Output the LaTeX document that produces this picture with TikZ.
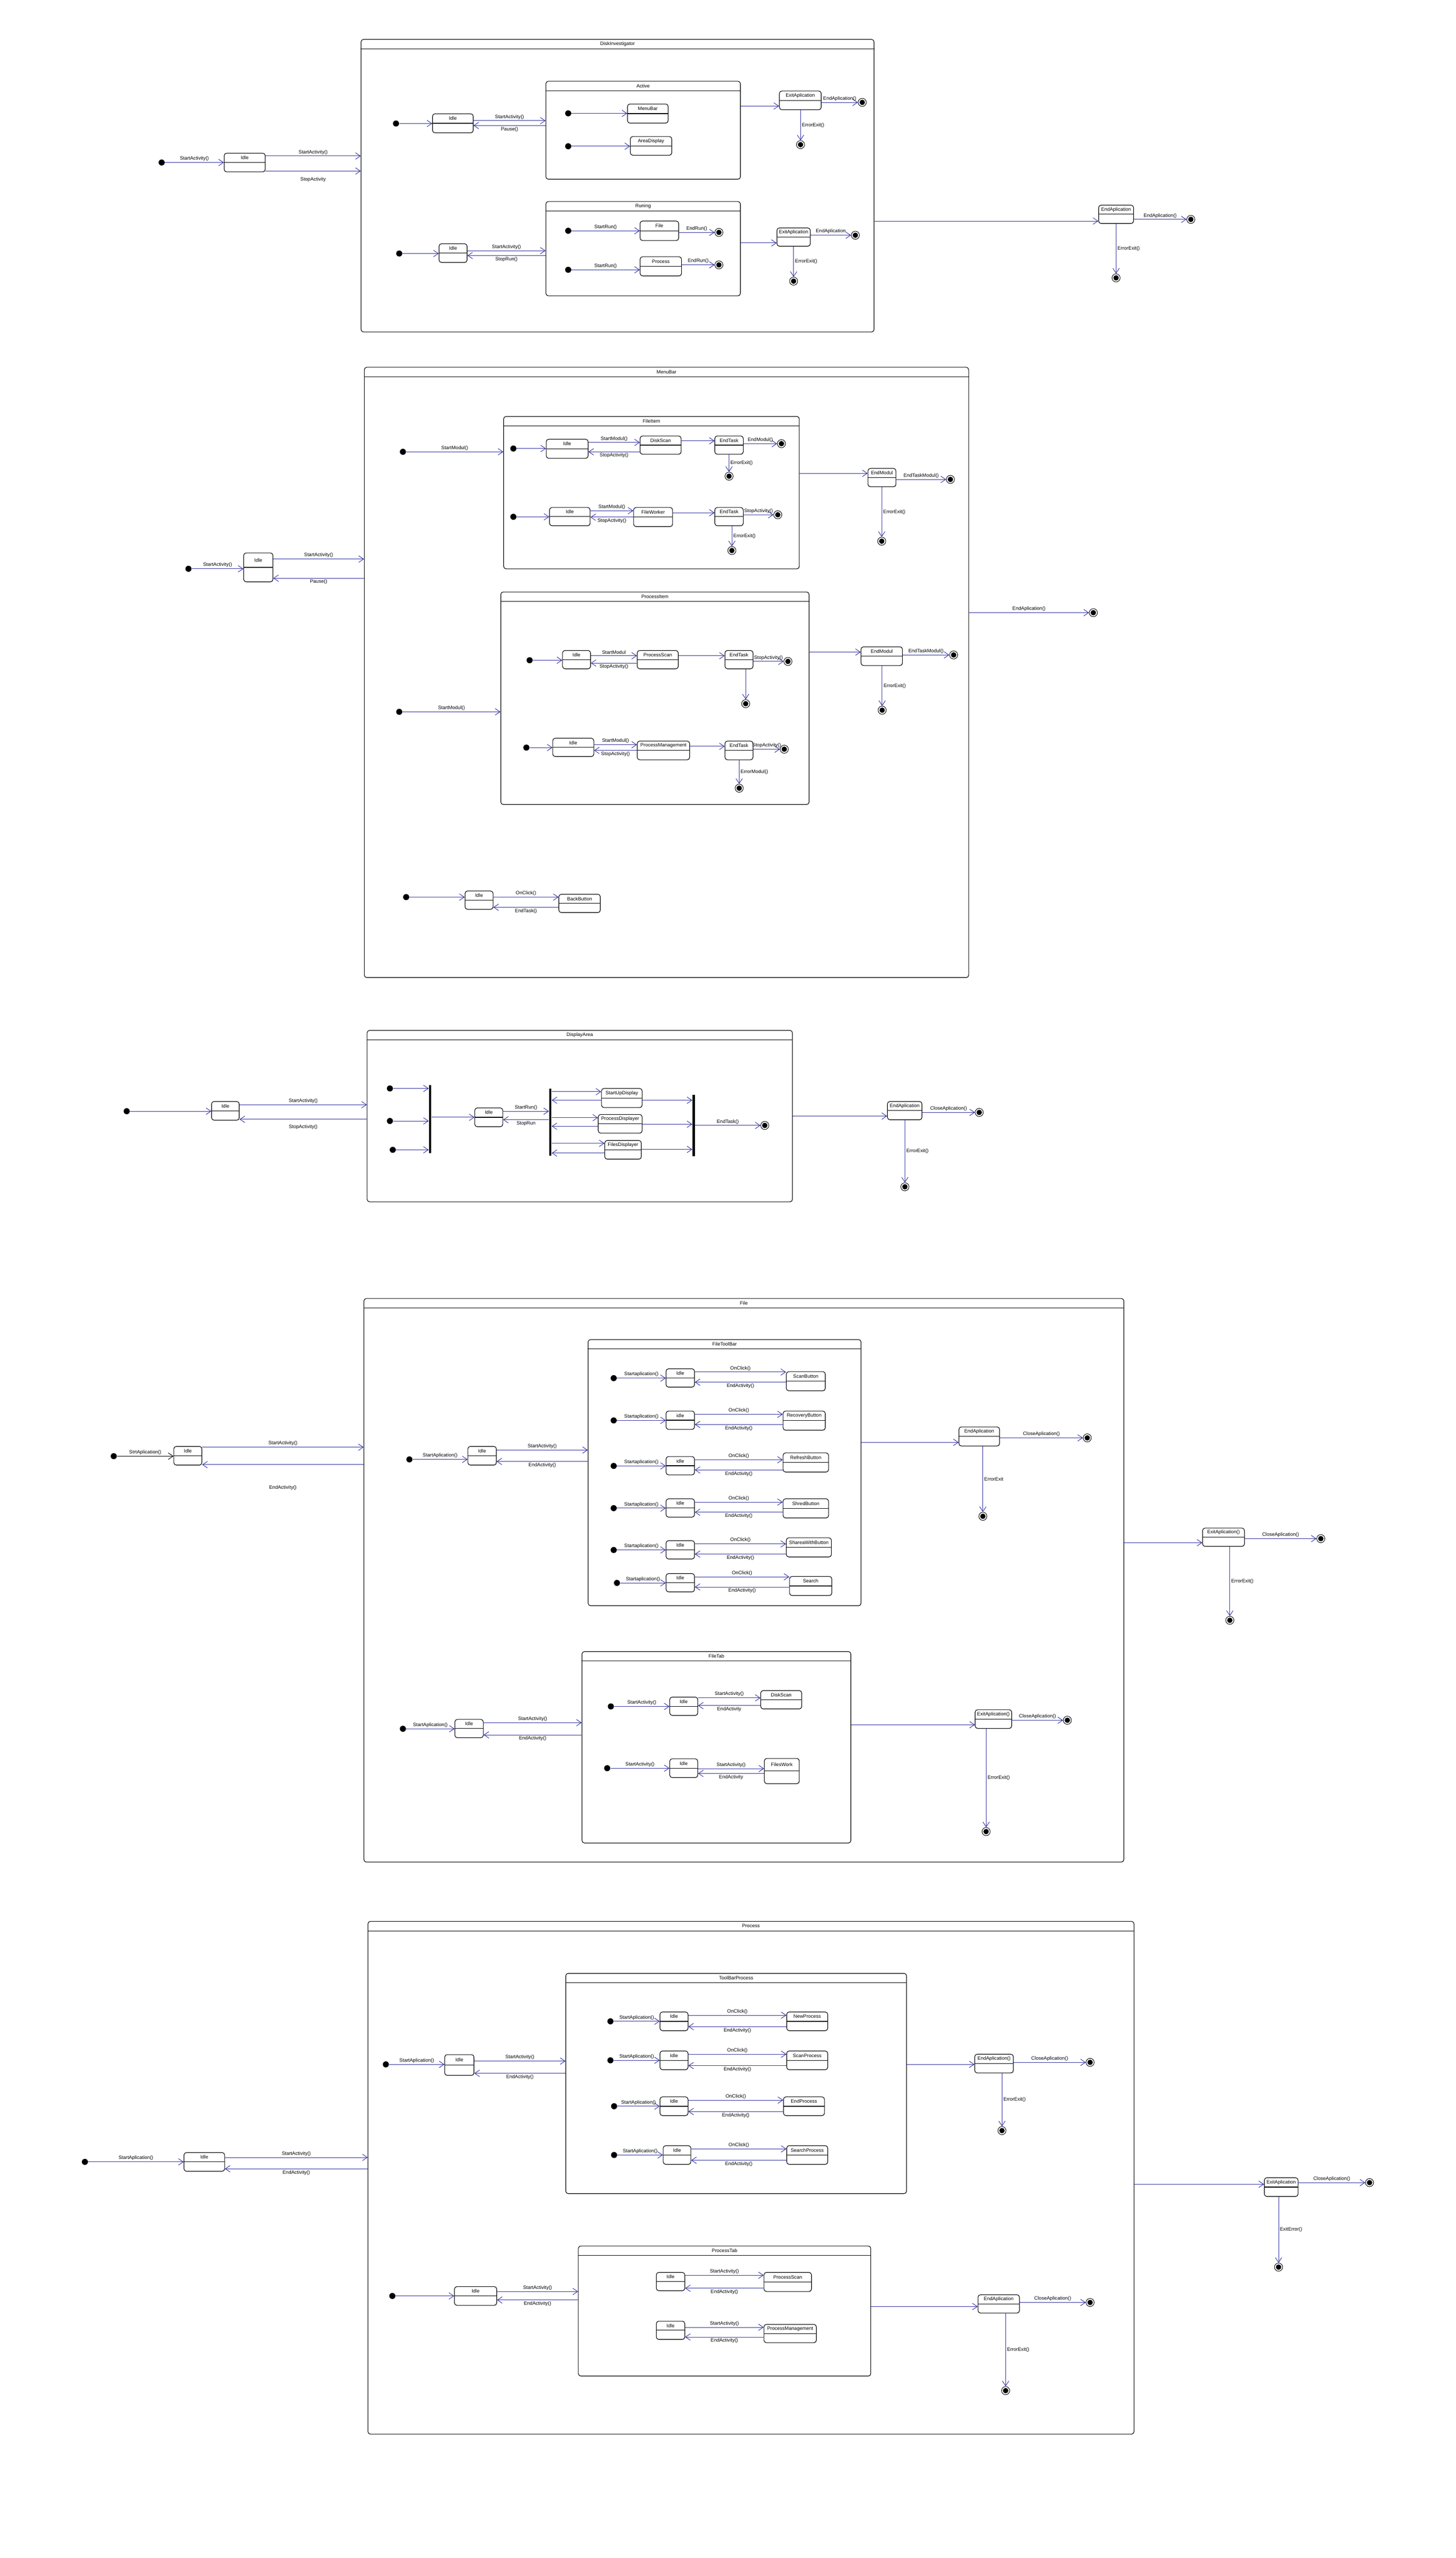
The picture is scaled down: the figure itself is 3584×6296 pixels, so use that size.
\documentclass[tikz,border=0pt]{standalone}
\usepackage{fontspec}
\setmainfont{Liberation Sans}
\usetikzlibrary{arrows.meta,calc,fit,shadows}
\definecolor{arrowblue}{RGB}{45,45,160}

\tikzset{
  st/.style={draw, rounded corners=3pt, line width=0.7pt, fill=white, inner sep=0pt,
    drop shadow={fill=gray!45, shadow xshift=0.5pt, shadow yshift=-0.8pt},
    path picture={\draw[black,line width=0.7pt] (path picture bounding box.west) -- (path picture bounding box.east);}},
  cst/.style={draw, rounded corners=3pt, line width=0.7pt, fill=white, inner sep=0pt,
    drop shadow={fill=gray!45, shadow xshift=0.5pt, shadow yshift=-0.8pt}},
  stname/.style={font=\fontsize{6}{7}\selectfont, inner sep=0pt},
  lbl/.style={font=\fontsize{6}{7}\selectfont, inner sep=1.5pt, text=black},
  init/.style={circle, fill=black, minimum size=7.5pt, inner sep=0pt},
  fin/.style={circle, draw, line width=0.6pt, fill=white, minimum size=10pt, inner sep=0pt,
    path picture={\fill[black] (path picture bounding box.center) circle (3.3pt);}},
  tr/.style={draw=arrowblue, line width=0.6pt, -{Straight Barb[length=6pt,width=8pt]}},
  bar/.style={fill=black, inner sep=0pt},
}

% simple state: name, x1, y1, x2, y2, text
\newcommand{\stbox}[6]{%
  \node[st, fit={(#2,#3) (#4,#5)}] (#1) {};
  \node[stname] at ($(#1.north)!0.25!(#1.south)$) {#6};
}
% composite state with title bar
\newcommand{\cbox}[6]{%
  \node[cst, fit={(#2,#3) (#4,#5)}] (#1) {};
  \draw[line width=0.7pt] ($(#1.north west)+(0,24)$) -- ($(#1.north east)+(0,24)$);
  \node[stname] at ($(#1.north)+(0,12)$) {#6};
}

\begin{document}
\begin{tikzpicture}[x=0.5pt,y=-0.5pt]
\fill[white] (0,0) rectangle (3584,6296);
\useasboundingbox (0,0) rectangle (3584,6296);

% ---------------- DiskInvestigator
\node[init] (i0) at (398,400) {};
\stbox{idA}{552}{377}{653}{423}{Idle}
\cbox{di}{889}{97}{2152}{817}{DiskInvestigator}
\draw[tr] (i0) -- (i0 -| idA.west) node[lbl,midway,above]{StartActivity()};
\draw[tr] (idA.east |- 0,384) -- (di.west |- 0,384) node[lbl,midway,above]{StartActivity()};
\draw[tr] (idA.east |- 0,421) -- (di.west |- 0,421) node[lbl,midway,below=6pt]{StopActivity};

\node[init] (i1) at (975,304) {};
\stbox{idB}{1065}{280}{1165}{327}{Idle}
\cbox{act}{1344}{200}{1823}{441}{Active}
\draw[tr] (i1) -- (i1 -| idB.west);
\draw[tr] (idB.east |- 0,297) -- (act.west |- 0,297) node[lbl,midway,above]{StartActivity()};
\draw[tr] (act.west |- 0,309) -- (idB.east |- 0,309) node[lbl,midway,below]{Pause()};
\node[init] (i2) at (1399,279) {};
\stbox{mnb}{1545}{256}{1645}{303}{MenuBar}
\draw[tr] (i2) -- (i2 -| mnb.west);
\node[init] (i3) at (1399,360) {};
\stbox{ard}{1552}{336}{1654}{382}{AreaDisplay}
\draw[tr] (i3) -- (i3 -| ard.west);
\stbox{ex1}{1919}{224}{2022}{270}{ExitAplication}
\draw[tr] (act.east |- 0,261) -- (ex1.west |- 0,261);
\node[fin] (f3) at (2123,252) {};
\draw[tr] (ex1.east |- f3) -- (f3) node[lbl,midway,above]{EndAplication()};
\node[fin] (f4) at (1971,356) {};
\draw[tr] (f4 |- ex1.south) -- (f4) node[lbl,midway,right]{ErrorExit()};

\cbox{run}{1344}{496}{1823}{728}{Runing}
\node[init] (i4) at (983,624) {};
\stbox{idC}{1081}{600}{1150}{646}{Idle}
\draw[tr] (i4) -- (i4 -| idC.west);
\draw[tr] (idC.east |- 0,617) -- (run.west |- 0,617) node[lbl,midway,above]{StartActivity()};
\draw[tr] (run.west |- 0,629) -- (idC.east |- 0,629) node[lbl,midway,below]{StopRun()};
\node[init] (i5) at (1399,568) {};
\stbox{fil}{1576}{544}{1671}{592}{File}
\draw[tr] (i5) -- (i5 -| fil.west) node[lbl,midway,above]{StartRun()};
\node[fin] (f5) at (1770,572) {};
\draw[tr] (fil.east |- f5) -- (f5) node[lbl,midway,above]{EndRun()};
\node[init] (i6) at (1399,664) {};
\stbox{prc}{1576}{632}{1678}{679}{Process}
\draw[tr] (i6) -- (i6 -| prc.west) node[lbl,midway,above]{StartRun()};
\node[fin] (f6) at (1770,652) {};
\draw[tr] (prc.east |- f6) -- (f6) node[lbl,midway,above]{EndRun()};
\stbox{ex2}{1913}{561}{1995}{606}{ExitAplication}
\draw[tr] (run.east |- 0,598) -- (ex2.west |- 0,598);
\node[fin] (f7) at (2106,579) {};
\draw[tr] (ex2.east |- f7) -- (f7) node[lbl,midway,above]{EndAplication};
\node[fin] (f8) at (1954,692) {};
\draw[tr] (f8 |- ex2.south) -- (f8) node[lbl,midway,right]{ErrorExit()};

\stbox{endA1}{2705}{505}{2791}{550}{EndAplication}
\draw[tr] (di.east |- 0,544) -- (endA1.west |- 0,544);
\node[fin] (f1) at (2932,540) {};
\draw[tr] (endA1.east |- f1) -- (f1) node[lbl,midway,above]{EndAplication()};
\node[fin] (f2) at (2748,684) {};
\draw[tr] (f2 |- endA1.south) -- (f2) node[lbl,midway,right]{ErrorExit()};

% ---------------- MenuBar
\node[init] (j0) at (464,1400) {};
\stbox{idD}{600}{1361}{672}{1432}{Idle}
\cbox{mbar}{897}{904}{2385}{2406}{MenuBar}
\draw[tr] (j0) -- (j0 -| idD.west) node[lbl,midway,above]{StartActivity()};
\draw[tr] (idD.east |- 0,1376) -- (mbar.west |- 0,1376) node[lbl,midway,above]{StartActivity()};
\draw[tr] (mbar.west |- 0,1423) -- (idD.east |- 0,1423) node[lbl,midway,below]{Pause()};
\node[fin] (g0) at (2692,1508) {};
\draw[tr] (mbar.east |- g0) -- (g0) node[lbl,midway,above]{EndAplication()};

\cbox{fi}{1240}{1025}{1968}{1400}{FileItem}
\node[init] (j1) at (992,1112) {};
\draw[tr] (j1) -- (j1 -| fi.west) node[lbl,midway,above]{StartModul()};
\cbox{pi}{1233}{1457}{1992}{1980}{ProcessItem}
\node[init] (j2) at (983,1752) {};
\draw[tr] (j2) -- (j2 -| pi.west) node[lbl,midway,above]{StartModul()};
\stbox{em1}{2137}{1153}{2206}{1198}{EndModul}
\draw[tr] (fi.east |- 0,1165) -- (em1.west |- 0,1165);
\node[fin] (g1) at (2340,1180) {};
\draw[tr] (em1.east |- g1) -- (g1) node[lbl,midway,above]{EndTaskModul()};
\node[fin] (g2) at (2171,1332) {};
\draw[tr] (g2 |- em1.south) -- (g2) node[lbl,midway,right]{ErrorExit()};
\stbox{em2}{2120}{1592}{2222}{1638}{EndModul}
\draw[tr] (pi.east |- 0,1605) -- (em2.west |- 0,1605);
\node[fin] (g3) at (2348,1612) {};
\draw[tr] (em2.east |- g3) -- (g3) node[lbl,midway,above]{EndTaskModul()};
\node[fin] (g4) at (2172,1748) {};
\draw[tr] (g4 |- em2.south) -- (g4) node[lbl,midway,right]{ErrorExit()};

% FileItem rows
\node[init] (j4) at (1264,1104) {};
\stbox{idF}{1345}{1081}{1448}{1128}{Idle}
\stbox{ds}{1576}{1073}{1677}{1118}{DiskScan}
\draw[tr] (j4) -- (j4 -| idF.west);
\draw[tr] (idF.east |- 0,1089) -- (ds.west |- 0,1089) node[lbl,midway,above]{StartModul()};
\draw[tr] (ds.west |- 0,1112) -- (idF.east |- 0,1112) node[lbl,midway,below]{StopActivity()};
\stbox{et1}{1760}{1073}{1830}{1118}{EndTask}
\draw[tr] (ds.east |- 0,1085) -- (et1.west |- 0,1085);
\node[fin] (g5) at (1924,1092) {};
\draw[tr] (et1.east |- g5) -- (g5) node[lbl,midway,above]{EndModul()};
\node[fin] (g6) at (1795,1172) {};
\draw[tr] (g6 |- et1.south) -- (g6) node[lbl,midway,right]{ErrorExit()};

\node[init] (j5) at (1264,1272) {};
\stbox{idG}{1353}{1249}{1453}{1294}{Idle}
\stbox{fw}{1560}{1249}{1656}{1296}{FileWorker}
\draw[tr] (j5) -- (j5 -| idG.west);
\draw[tr] (idG.east |- 0,1257) -- (fw.west |- 0,1257) node[lbl,midway,above]{StartModul()};
\draw[tr] (fw.west |- 0,1273) -- (idG.east |- 0,1273) node[lbl,midway,below]{StopActivity()};
\stbox{et2}{1760}{1249}{1830}{1294}{EndTask}
\draw[tr] (fw.east |- 0,1262) -- (et2.west |- 0,1262);
\node[fin] (g7) at (1915,1267) {};
\draw[tr] (et2.east |- g7) -- (g7) node[lbl,midway,above]{StopActivity()};
\node[fin] (g8) at (1802,1355) {};
\draw[tr] (g8 |- et2.south) -- (g8) node[lbl,midway,right]{ErrorExit()};

% ProcessItem rows
\node[init] (j6) at (1304,1625) {};
\stbox{idH}{1385}{1601}{1454}{1646}{Idle}
\stbox{ps1}{1569}{1601}{1670}{1646}{ProcessScan}
\draw[tr] (j6) -- (j6 -| idH.west);
\draw[tr] (idH.east |- 0,1614) -- (ps1.west |- 0,1614) node[lbl,midway,above]{StartModul};
\draw[tr] (ps1.west |- 0,1632) -- (idH.east |- 0,1632) node[lbl,midway,below]{StopActivity()};
\stbox{et3}{1785}{1601}{1854}{1646}{EndTask}
\draw[tr] (ps1.east |- 0,1614) -- (et3.west |- 0,1614);
\node[fin] (g9) at (1940,1628) {};
\draw[tr] (et3.east |- g9) -- (g9) node[lbl,midway,above]{StopActivity()};
\node[fin] (g10) at (1836,1732) {};
\draw[tr] (g10 |- et3.south) -- (g10);

\node[init] (j7) at (1296,1840) {};
\stbox{idI}{1361}{1817}{1462}{1862}{Idle}
\stbox{pm1}{1569}{1824}{1698}{1870}{ProcessManagement}
\draw[tr] (j7) -- (j7 -| idI.west);
\draw[tr] (idI.east |- 0,1833) -- (pm1.west |- 0,1833) node[lbl,midway,above]{StartModul()};
\draw[tr] (pm1.west |- 0,1847) -- (idI.east |- 0,1847) node[lbl,midway,below]{StopActivity()};
\stbox{et4}{1785}{1824}{1854}{1870}{EndTask}
\draw[tr] (pm1.east |- 0,1837) -- (et4.west |- 0,1837);
\node[fin] (g11) at (1931,1844) {};
\draw[tr] (et4.east |- g11) -- (g11) node[lbl,midway,above]{StopActivity()};
\node[fin] (g12) at (1820,1940) {};
\draw[tr] (g12 |- et4.south) -- (g12) node[lbl,midway,right]{ErrorModul()};

% back button
\node[init] (j3) at (1000,2208) {};
\stbox{idE}{1145}{2193}{1214}{2238}{Idle}
\stbox{bb}{1376}{2201}{1478}{2246}{BackButton}
\draw[tr] (j3) -- (j3 -| idE.west);
\draw[tr] (idE.east |- 0,2208) -- (bb.west |- 0,2208) node[lbl,midway,above]{OnClick()};
\draw[tr] (bb.west |- 0,2233) -- (idE.east |- 0,2233) node[lbl,midway,below]{EndTask()};

% ---------------- DisplayArea
\node[init] (k0) at (312,2735) {};
\stbox{idJ}{521}{2711}{589}{2757}{Idle}
\cbox{da}{904}{2536}{1951}{2958}{DisplayArea}
\draw[tr] (k0) -- (k0 -| idJ.west);
\draw[tr] (idJ.east |- 0,2719) -- (da.west |- 0,2719) node[lbl,midway,above]{StartActivity()};
\draw[tr] (da.west |- 0,2755) -- (idJ.east |- 0,2755) node[lbl,midway,below=5pt]{StopActivity()};
\node[bar, fit={(1056,2671) (1062,2838)}] (bar1) {};
\node[bar, fit={(1352,2679) (1358,2845)}] (bar2) {};
\node[bar, fit={(1705,2695) (1711,2846)}] (bar3) {};
\node[init] (k1) at (960,2679) {};
\node[init] (k2) at (960,2759) {};
\node[init] (k3) at (967,2830) {};
\draw[tr] (k1) -- (k1 -| bar1.west);
\draw[tr] (k2) -- (k2 -| bar1.west);
\draw[tr] (k3) -- (k3 -| bar1.west);
\stbox{idK}{1169}{2727}{1238}{2773}{Idle}
\draw[tr] (bar1.east |- idK) -- (idK.west);
\draw[tr] (idK.east |- 0,2735) -- (bar2.west |- 0,2735) node[lbl,midway,above]{StartRun()};
\draw[tr] (bar2.west |- 0,2756) -- (idK.east |- 0,2756) node[lbl,midway,below]{StopRun};
\stbox{sud}{1481}{2679}{1581}{2726}{StartUpDisplay}
\stbox{pd}{1473}{2743}{1581}{2789}{ProcessDisplayer}
\stbox{fd}{1489}{2807}{1579}{2853}{FilesDisplayer}
\draw[tr] (bar2.east |- 0,2687) -- (sud.west |- 0,2687);
\draw[tr] (sud.west |- 0,2708) -- (bar2.east |- 0,2708);
\draw[tr] (bar2.east |- 0,2751) -- (pd.west |- 0,2751);
\draw[tr] (pd.west |- 0,2772) -- (bar2.east |- 0,2772);
\draw[tr] (bar2.east |- 0,2814) -- (fd.west |- 0,2814);
\draw[tr] (fd.west |- 0,2838) -- (bar2.east |- 0,2838);
\draw[tr] (sud.east |- 0,2708) -- (bar3.west |- 0,2708);
\draw[tr] (pd.east |- 0,2767) -- (bar3.west |- 0,2767);
\draw[tr] (fd.east |- 0,2829) -- (bar3.west |- 0,2829);
\node[fin] (k4) at (1883,2770) {};
\draw[tr] (bar3.east |- k4) -- (k4) node[lbl,midway,above]{EndTask()};
\stbox{ea3}{2185}{2711}{2270}{2756}{EndAplication}
\draw[tr] (da.east |- 0,2747) -- (ea3.west |- 0,2747);
\node[fin] (k5) at (2411,2738) {};
\draw[tr] (ea3.east |- k5) -- (k5) node[lbl,midway,above]{CloseAplication()};
\node[fin] (k6) at (2228,2921) {};
\draw[tr] (k6 |- ea3.south) -- (k6) node[lbl,midway,right]{ErrorExit()};

% ---------------- File
\node[init] (m0) at (280,3584) {};
\stbox{idL}{428}{3560}{497}{3606}{Idle}
\cbox{file}{896}{3196}{2767}{4583}{File}
\draw[tr,draw=black] (m0) -- (m0 -| idL.west) node[lbl,midway,above]{StrtAplication()};
\draw[tr] (idL.east |- 0,3562) -- (file.west |- 0,3562) node[lbl,midway,above]{StartActivity()};
\draw[tr] (file.west |- 0,3605) -- (idL.east |- 0,3605) node[lbl,midway,below=24pt]{EndActivity()};
\stbox{ex4}{2961}{3761}{3064}{3806}{ExitAplication()}
\draw[tr] (file.east |- 0,3797) -- (ex4.west |- 0,3797);
\node[fin] (m1) at (3252,3787) {};
\draw[tr] (ex4.east |- m1) -- (m1) node[lbl,midway,above]{CloseAplication()};
\node[fin] (m2) at (3028,3988) {};
\draw[tr] (m2 |- ex4.south) -- (m2) node[lbl,midway,right]{ErrorExit()};

\node[init] (m3) at (1008,3592) {};
\stbox{idM}{1152}{3560}{1222}{3606}{Idle}
\cbox{ftb}{1448}{3297}{2120}{3952}{FileToolBar}
\draw[tr] (m3) -- (m3 -| idM.west) node[lbl,midway,above]{StartAplication()};
\draw[tr] (idM.east |- 0,3569) -- (ftb.west |- 0,3569) node[lbl,midway,above]{StartActivity()};
\draw[tr] (ftb.west |- 0,3597) -- (idM.east |- 0,3597) node[lbl,midway,below]{EndActivity()};
\stbox{ea4}{2361}{3512}{2461}{3559}{EndAplication}
\draw[tr] (ftb.east |- 0,3550) -- (ea4.west |- 0,3550);
\node[fin] (m4) at (2677,3539) {};
\draw[tr] (ea4.east |- m4) -- (m4) node[lbl,midway,above]{CloseAplication()};
\node[fin] (m5) at (2420,3732) {};
\draw[tr] (m5 |- ea4.south) -- (m5) node[lbl,midway,right]{ErrorExit};

\foreach \n/\yt/\dx/\it/\ba/\bb/\bt/\bn in {1/3369/1511/Idle/1936/2032/3376/ScanButton,
    2/3473/1511/idle/1928/2032/3473/RecoveryButton, 3/3585/1511/idle/1928/2040/3576/RefreshButton,
    4/3689/1511/Idle/1928/2040/3689/ShredButton, 5/3792/1511/Idle/1936/2047/3785/ShareaWithButton,
    6/3873/1519/Idle/1944/2048/3880/Search}{
  \node[init] (ti\n) at (\dx,\yt+23) {};
  \stbox{tid\n}{1640}{\yt}{1710}{\yt+45}{\it}
  \stbox{tb\n}{\ba}{\bt}{\bb}{\bt+47}{\bn}
  \draw[tr] (ti\n) -- (ti\n -| tid\n.west) node[lbl,midway,above]{Startaplication()};
  \draw[tr] (tid\n.east |- 0,\yt+8) -- (tb\n.west |- 0,\yt+8) node[lbl,midway,above]{OnClick()};
  \draw[tr] (tb\n.west |- 0,\yt+33) -- (tid\n.east |- 0,\yt+33) node[lbl,midway,below]{EndActivity()};
}

\node[init] (m6) at (992,4255) {};
\stbox{idN}{1120}{4232}{1190}{4277}{Idle}
\cbox{ftab}{1433}{4065}{2095}{4536}{FileTab}
\draw[tr] (m6) -- (m6 -| idN.west) node[lbl,midway,above]{StartAplication()};
\draw[tr] (idN.east |- 0,4240) -- (ftab.west |- 0,4240) node[lbl,midway,above]{StartActivity()};
\draw[tr] (ftab.west |- 0,4270) -- (idN.east |- 0,4270) node[lbl,midway,below]{EndActivity()};
\stbox{ex5}{2401}{4208}{2491}{4254}{ExitAplication()}
\draw[tr] (ftab.east |- 0,4245) -- (ex5.west |- 0,4245);
\node[fin] (m7) at (2628,4234) {};
\draw[tr] (ex5.east |- m7) -- (m7) node[lbl,midway,above]{CloseAplication()};
\node[fin] (m8) at (2428,4508) {};
\draw[tr] (m8 |- ex5.south) -- (m8) node[lbl,midway,right]{ErrorExit()};

\node[init] (m9) at (1504,4200) {};
\stbox{idO}{1649}{4177}{1718}{4222}{Idle}
\stbox{dsk}{1873}{4161}{1974}{4206}{DiskScan}
\draw[tr] (m9) -- (m9 -| idO.west) node[lbl,midway,above]{StartActivity()};
\draw[tr] (idO.east |- 0,4179) -- (dsk.west |- 0,4179) node[lbl,midway,above]{StartActivity()};
\draw[tr] (dsk.west |- 0,4198) -- (idO.east |- 0,4198) node[lbl,midway,below]{EndActivity};
\node[init] (m10) at (1495,4352) {};
\stbox{idO2}{1649}{4329}{1718}{4375}{Idle}
\stbox{fwk}{1882}{4328}{1968}{4390}{FilesWork}
\draw[tr] (m10) -- (m10 -| idO2.west) node[lbl,midway,above]{StartActivity()};
\draw[tr] (idO2.east |- 0,4353) -- (fwk.west |- 0,4353) node[lbl,midway,above]{StartActivity()};
\draw[tr] (fwk.west |- 0,4365) -- (idO2.east |- 0,4365) node[lbl,midway,below]{EndActivity};

% ---------------- Process
\node[init] (p0) at (209,5321) {};
\stbox{idP}{453}{5298}{553}{5344}{Idle}
\cbox{proc}{906}{4729}{2792}{5991}{Process}
\draw[tr] (p0) -- (p0 -| idP.west) node[lbl,midway,above]{StartAplication()};
\draw[tr] (idP.east |- 0,5310) -- (proc.west |- 0,5310) node[lbl,midway,above]{StartActivity()};
\draw[tr] (proc.west |- 0,5338) -- (idP.east |- 0,5338) node[lbl,midway,below]{EndActivity()};
\stbox{ex6}{3113}{5360}{3196}{5406}{ExitAplication}
\draw[tr] (proc.east |- 0,5376) -- (ex6.west |- 0,5376);
\node[fin] (p1) at (3372,5372) {};
\draw[tr] (ex6.east |- p1) -- (p1) node[lbl,midway,above]{CloseAplication()};
\node[fin] (p2) at (3148,5580) {};
\draw[tr] (p2 |- ex6.south) -- (p2) node[lbl,midway,right]{ExitError()};

\node[init] (p3) at (950,5081) {};
\stbox{idQ}{1095}{5057}{1167}{5108}{Idle}
\cbox{tbp}{1393}{4857}{2232}{5399}{ToolBarProcess}
\draw[tr] (p3) -- (p3 -| idQ.west) node[lbl,midway,above]{StartAplication()};
\draw[tr] (idQ.east |- 0,5073) -- (tbp.west |- 0,5073) node[lbl,midway,above]{StartActivity()};
\draw[tr] (tbp.west |- 0,5103) -- (idQ.east |- 0,5103) node[lbl,midway,below]{EndActivity()};
\stbox{ea6}{2400}{5056}{2495}{5102}{EndAplication()}
\draw[tr] (tbp.east |- 0,5081) -- (ea6.west |- 0,5081);
\node[fin] (p4) at (2684,5076) {};
\draw[tr] (ea6.east |- p4) -- (p4) node[lbl,midway,above]{CloseAplication()};
\node[fin] (p5) at (2467,5244) {};
\draw[tr] (p5 |- ea6.south) -- (p5) node[lbl,midway,right]{ErrorExit()};

\foreach \n/\yt/\dx/\ia/\ib/\ba/\bb/\bn in {1/4952/1503/1625/1694/1937/2038/NewProcess,
    2/5048/1503/1625/1694/1937/2038/ScanProcess, 3/5161/1512/1625/1694/1929/2030/EndProcess,
    4/5281/1512/1633/1701/1937/2038/SearchProcess}{
  \node[init] (pi\n) at (\dx,\yt+23) {};
  \stbox{pid\n}{\ia}{\yt}{\ib}{\yt+46}{Idle}
  \stbox{pb\n}{\ba}{\yt}{\bb}{\yt+46}{\bn}
  \draw[tr] (pi\n) -- (pi\n -| pid\n.west) node[lbl,midway,above]{StartAplication()};
  \draw[tr] (pid\n.east |- 0,\yt+8) -- (pb\n.west |- 0,\yt+8) node[lbl,midway,above]{OnClick()};
  \draw[tr] (pb\n.west |- 0,\yt+36) -- (pid\n.east |- 0,\yt+36) node[lbl,midway,below]{EndActivity()};
}

\node[init] (p6) at (966,5651) {};
\stbox{idR}{1119}{5628}{1223}{5674}{Idle}
\cbox{ptab}{1424}{5528}{2144}{5848}{ProcessTab}
\draw[tr] (p6) -- (p6 -| idR.west);
\draw[tr] (idR.east |- 0,5640) -- (ptab.west |- 0,5640) node[lbl,midway,above]{StartActivity()};
\draw[tr] (ptab.west |- 0,5661) -- (idR.east |- 0,5661) node[lbl,midway,below]{EndActivity()};
\stbox{ea7}{2408}{5648}{2510}{5693}{EndAplication}
\draw[tr] (ptab.east |- 0,5677) -- (ea7.west |- 0,5677);
\node[fin] (p7) at (2684,5667) {};
\draw[tr] (ea7.east |- p7) -- (p7) node[lbl,midway,above]{CloseAplication()};
\node[fin] (p8) at (2476,5884) {};
\draw[tr] (p8 |- ea7.south) -- (p8) node[lbl,midway,right]{ErrorExit()};

\stbox{idS}{1616}{5593}{1686}{5638}{Idle}
\stbox{psc}{1881}{5593}{1998}{5640}{ProcessScan}
\draw[tr] (idS.east |- 0,5600) -- (psc.west |- 0,5600) node[lbl,midway,above]{StartActivity()};
\draw[tr] (psc.west |- 0,5632) -- (idS.east |- 0,5632) node[lbl,midway,below]{EndActivity()};
\stbox{idS2}{1616}{5713}{1686}{5758}{Idle}
\stbox{pmg}{1881}{5721}{2010}{5766}{ProcessManagement}
\draw[tr] (idS2.east |- 0,5728) -- (pmg.west |- 0,5728) node[lbl,midway,above]{StartActivity()};
\draw[tr] (pmg.west |- 0,5752) -- (idS2.east |- 0,5752) node[lbl,midway,below]{EndActivity()};

\end{tikzpicture}
\end{document}
